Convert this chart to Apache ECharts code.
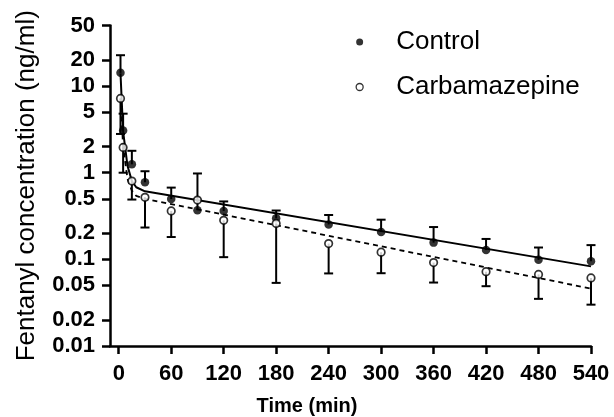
<!DOCTYPE html>
<html><head><meta charset="utf-8">
<script src="https://cdn.jsdelivr.net/npm/echarts@6/dist/echarts.min.js"></script>
<style>html,body{margin:0;padding:0;background:#fff}#c{width:614px;height:417px}</style>
</head><body><div id="c"></div>
<script>
// Sampling times (min)
const timesMin = [2, 5, 15, 30, 60, 90, 120, 180, 240, 300, 360, 420, 480, 540];
// Control group: mean and upper error-bar end (ng/ml)
const controlMean  = [14.2, 3.07, 1.25, 0.776, 0.496, 0.369, 0.362, 0.298, 0.253, 0.207, 0.156, 0.128, 0.0987, 0.095];
const controlUpper = [22.7, 4.8, 1.79, 1.04, 0.673, 0.98, 0.466, 0.366, 0.325, 0.287, 0.236, 0.172, 0.137, 0.146];
// Carbamazepine group: mean and lower error-bar end (ng/ml)
const carbaMean  = [7.2, 1.96, 0.80, 0.52, 0.362, 0.483, 0.282, 0.26, 0.152, 0.121, 0.0918, 0.072, 0.067, 0.061];
const carbaLower = [2.8, 1.0, 0.49, 0.233, 0.181, 0.483, 0.106, 0.0535, 0.0688, 0.0692, 0.054, 0.049, 0.035, 0.030];
// Fitted curves
const controlFitTime  = [2, 5, 10, 15, 20, 30, 540];
const controlFitValue = [14, 3.0, 1.2, 0.8, 0.68, 0.61, 0.083];
const carbaFitTime  = [2, 5, 10, 15, 20, 30, 540];
const carbaFitValue = [7.2, 2.0, 0.85, 0.62, 0.54, 0.50, 0.046];
// Axis ticks
const xTickValues = [0, 60, 120, 180, 240, 300, 360, 420, 480, 540];
const yTickValues = [0.01, 0.02, 0.05, 0.1, 0.2, 0.5, 1, 2, 5, 10, 20, 50];
const yTickLabels = ['0.01', '0.02', '0.05', '0.1', '0.2', '0.5', '1', '2', '5', '10', '20', '50'];

const zip = (a, b) => a.map((v, i) => [v, b[i]]);
const zip3 = (a, b, c) => a.map((v, i) => [v, b[i], c[i]]);
const FONT = 'Liberation Sans, Arial, sans-serif';

function errRender(params, api) {
  const x = api.value(0), v = api.value(1), e = api.value(2);
  if (v === e) return null;
  const p1 = api.coord([x, v]);
  const p2 = api.coord([x, e]);
  const st = { stroke: '#000', lineWidth: 2 };
  return {
    type: 'group',
    children: [
      { type: 'line', shape: { x1: p1[0], y1: p1[1], x2: p2[0], y2: p2[1] }, style: st },
      { type: 'line', shape: { x1: p2[0] - 4.5, y1: p2[1], x2: p2[0] + 4.5, y2: p2[1] }, style: st }
    ]
  };
}

const yLogTicks = yTickValues.map(v => Math.log10(v));

const chart = echarts.init(document.getElementById('c'), null, { renderer: 'canvas' });
chart.setOption({
  animation: false,
  backgroundColor: '#fff',
  grid: { left: 110, right: 23, top: 25.5, bottom: 71, containLabel: false, outerBoundsMode: 'none' },
  legend: {
    orient: 'vertical',
    left: 350.5,
    top: 22,
    itemWidth: 7,
    itemHeight: 7,
    itemGap: 15,
    textStyle: { fontSize: 26, fontFamily: FONT, color: '#000', lineHeight: 30, padding: [0, 0, 0, 28] },
    data: [
      { name: 'Control', icon: 'circle', itemStyle: { color: '#000', borderWidth: 0 } },
      { name: 'Carbamazepine', icon: 'circle', itemStyle: { color: '#fff', borderColor: '#000', borderWidth: 1.3 } }
    ]
  },
  xAxis: {
    type: 'value', min: -10, max: 540,
    name: 'Time (min)', nameLocation: 'middle', nameGap: 50, nameMoveOverlap: false,
    nameTextStyle: { fontSize: 20, fontWeight: 'bold', fontFamily: FONT, color: '#000', padding: [0, 87, 0, 0] },
    axisLine: { show: true, onZero: false, lineStyle: { color: '#000', width: 2.5 } },
    axisTick: { show: true, length: 8, customValues: xTickValues, lineStyle: { color: '#000', width: 2.5 } },
    axisLabel: { customValues: xTickValues, margin: 17, fontSize: 22, fontWeight: 'bold', fontFamily: FONT, color: '#000' },
    splitLine: { show: false }
  },
  yAxis: [
    {
      type: 'log', min: 0.01, max: 50, logBase: 10,
      axisLine: { show: true, onZero: false, lineStyle: { color: '#000', width: 2.5 } },
      axisTick: { show: false }, axisLabel: { show: false }, splitLine: { show: false }, minorTick: { show: false }
    },
    {
      type: 'value', min: -2, max: Math.log10(50), position: 'left',
      name: 'Fentanyl concentration (ng/ml)', nameLocation: 'middle', nameGap: 70, nameMoveOverlap: false,
      nameTextStyle: { fontSize: 26, fontFamily: FONT, color: '#000' },
      axisLine: { show: false, onZero: false },
      axisTick: { show: true, length: 8, customValues: yLogTicks, lineStyle: { color: '#000', width: 2.5 } },
      axisLabel: {
        customValues: yLogTicks, margin: 15, fontSize: 22, fontWeight: 'bold', fontFamily: FONT, color: '#000',
        formatter: function (v) {
          for (let i = 0; i < yLogTicks.length; i++) if (Math.abs(yLogTicks[i] - v) < 1e-6) return yTickLabels[i];
          return '';
        }
      },
      splitLine: { show: false }
    }
  ],
  series: [
    { name: 'Control fit', type: 'line', yAxisIndex: 0, data: zip(controlFitTime, controlFitValue), showSymbol: false, symbol: 'none',
      lineStyle: { color: '#000', width: 2 }, z: 2 },
    { name: 'Carbamazepine fit', type: 'line', yAxisIndex: 0, data: zip(carbaFitTime, carbaFitValue), showSymbol: false, symbol: 'none',
      lineStyle: { color: '#000', width: 1.8, type: [5, 4] }, z: 2 },
    { name: 'Control SD', type: 'custom', yAxisIndex: 0, renderItem: errRender, data: zip3(timesMin, controlMean, controlUpper), encode: { x: 0, y: 1 }, z: 3 },
    { name: 'Carbamazepine SD', type: 'custom', yAxisIndex: 0, renderItem: errRender, data: zip3(timesMin, carbaMean, carbaLower), encode: { x: 0, y: 1 }, z: 3 },
    { name: 'Control', type: 'scatter', yAxisIndex: 0, data: zip(timesMin, controlMean), symbol: 'circle', symbolSize: 8.5,
      itemStyle: { color: '#000' }, z: 4 },
    { name: 'Carbamazepine', type: 'scatter', yAxisIndex: 0, data: zip(timesMin, carbaMean), symbol: 'circle', symbolSize: 7.5,
      itemStyle: { color: '#fff', borderColor: '#000', borderWidth: 1.7 }, z: 5 }
  ]
});
</script>
</body></html>
